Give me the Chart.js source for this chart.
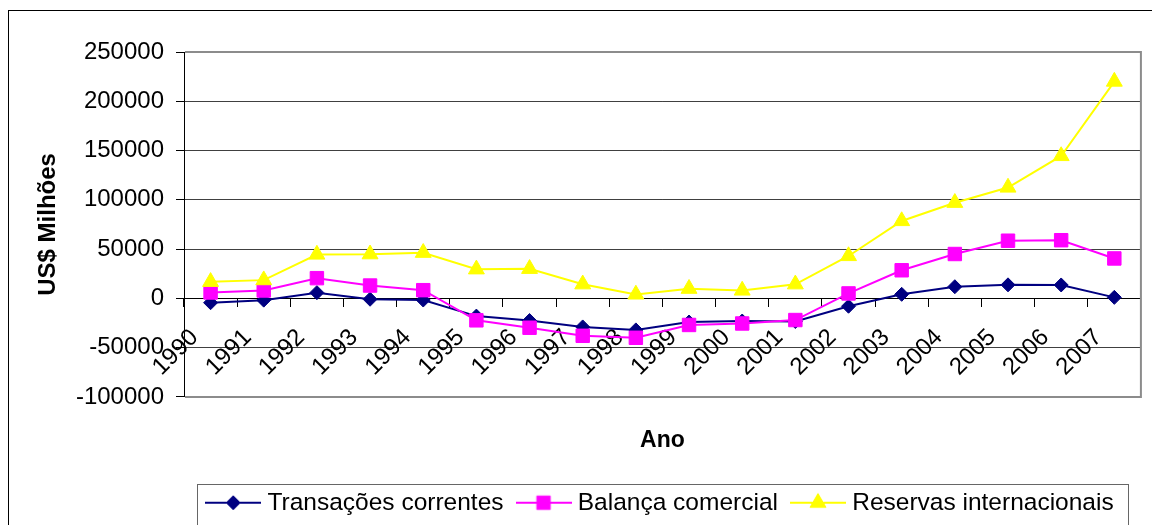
<!DOCTYPE html>
<html><head><meta charset="utf-8">
<script src="https://cdn.jsdelivr.net/npm/chart.js@4"></script>
<style>html,body{margin:0;padding:0;background:#fff}canvas{display:block}</style>
</head><body>
<canvas id="c" width="1152" height="525" style="width:1152px;height:525px"></canvas>
<script>
const years = ['1990','1991','1992','1993','1994','1995','1996','1997','1998','1999','2000','2001','2002','2003','2004','2005','2006','2007'];
const transacoesCorrentes = [-4400, -1800, 5800, -900, -1700, -18000, -22500, -29000, -32000, -24000, -23000, -23500, -8000, 4100, 11800, 13700, 13600, 1000];
const balancaComercial = [6000, 8000, 20500, 13000, 8300, -22300, -29800, -38000, -40000, -27000, -25500, -22000, 5000, 28500, 45000, 58500, 59000, 40500];
const reservasInternacionais = [16800, 18500, 44500, 44800, 46300, 29500, 30000, 14300, 4000, 9800, 8000, 14300, 43000, 78500, 97000, 112500, 144500, 220000];
const seriesNames = ['Transações correntes', 'Balança comercial', 'Reservas internacionais'];
const yMin = -100000, yMax = 250000, yStep = 50000;

const FONT = "'Liberation Sans', Arial, sans-serif";
Chart.defaults.font.family = FONT;
Chart.defaults.color = '#000';

const styles = [
  {color:'#000080', point:'rectRot', r:7},
  {color:'#FF00FF', point:'rect', r:9.5},
  {color:'#FFFF00', point:'triangle', r:9.2}
];

function legendIcon(s){
  const c = document.createElement('canvas');
  c.width = 56; c.height = 22;
  const g = c.getContext('2d');
  g.strokeStyle = s.color; g.fillStyle = s.color; g.lineWidth = 2;
  g.beginPath(); g.moveTo(0, 11); g.lineTo(56, 11); g.stroke();
  g.lineWidth = 1;
  Chart.helpers.drawPoint(g, {pointStyle: s.point, radius: s.r, borderWidth: 1, rotation: 0}, 28, 11);
  return c;
}
const icons = styles.map(legendIcon);

const seriesData = [transacoesCorrentes, balancaComercial, reservasInternacionais];
const datasets = seriesData.map((d, i) => ({
  label: seriesNames[i], data: d,
  borderColor: styles[i].color, backgroundColor: styles[i].color,
  pointBackgroundColor: styles[i].color, pointBorderColor: styles[i].color,
  borderWidth: 2, pointStyle: styles[i].point, pointRadius: styles[i].r,
  pointHoverRadius: styles[i].r, pointBorderWidth: 1, tension: 0,
  order: 2 - i
}));

const framePlugin = {
  id: 'frame',
  beforeDraw(chart){
    const ctx = chart.ctx; ctx.save();
    ctx.strokeStyle = '#000'; ctx.lineWidth = 1;
    ctx.strokeRect(8.5, 10.5, chart.width + 20, chart.height + 20);
    ctx.restore();
  },
  beforeDatasetsDraw(chart){
    const {ctx, chartArea:a} = chart; ctx.save();
    ctx.strokeStyle = '#8c8c8c'; ctx.lineWidth = 2;
    ctx.beginPath();
    ctx.moveTo(a.left + 1, a.top); ctx.lineTo(a.right, a.top); ctx.lineTo(a.right, a.bottom); ctx.lineTo(a.left + 1, a.bottom);
    ctx.stroke(); ctx.restore();
  },
  afterDraw(chart){
    const lg = chart.legend; if (!lg || !lg.legendHitBoxes.length) return;
    const hb = lg.legendHitBoxes, last = hb[hb.length - 1];
    const ctx = chart.ctx; ctx.save();
    ctx.strokeStyle = '#666'; ctx.lineWidth = 1;
    const l = Math.round(hb[0].left - 14) + 0.5, r = Math.round(last.left + last.width + 14) + 0.5;
    const t = Math.round(lg.top + 11.5) + 0.5;
    ctx.strokeRect(l, t, r - l, 200);
    ctx.restore();
  }
};

new Chart(document.getElementById('c'), {
  type: 'line',
  data: { labels: years, datasets },
  plugins: [framePlugin],
  options: {
    responsive: false, animation: false, devicePixelRatio: 1,
    layout: { padding: { left: 0, top: 52, right: 6, bottom: 0 } },
    scales: {
      x: {
        type: 'category', position: { y: 0 }, offset: true,
        grid: { display: true, drawOnChartArea: false, drawTicks: true, tickLength: 8, tickColor: '#000', offset: true, lineWidth: 1 },
        border: { display: true, color: '#000', width: 1 },
        ticks: { autoSkip: false, minRotation: 45, maxRotation: 45, padding: 17, labelOffset: -16, font: { size: 24 }, color: '#000' }
      },
      y: {
        min: yMin, max: yMax, position: 'left',
        ticks: { stepSize: yStep, padding: 12, font: { size: 24 }, color: '#000', callback: v => String(v) },
        grid: { color: '#404040', lineWidth: 1, tickLength: 8, tickColor: '#000', drawTicks: true },
        border: { display: true, color: '#000', width: 1 },
        title: { display: true, text: 'US$ Milhões', font: { size: 24, weight: 'bold' }, color: '#000', padding: { top: 34, bottom: 0 } },
        afterFit(s){ s.width = 184; }
      }
    },
    plugins: {
      legend: {
        position: 'bottom', fullSize: false,
        labels: {
          usePointStyle: true, pointStyleWidth: 44, font: { size: 24.5 }, padding: 18, color: '#000',
          generateLabels(chart){
            return chart.data.datasets.map((ds, i) => ({
              text: ds.label, fillStyle: ds.borderColor, strokeStyle: ds.borderColor, lineWidth: 0,
              pointStyle: icons[i], hidden: !chart.isDatasetVisible(i), datasetIndex: i, fontColor: '#000'
            }));
          }
        }
      },
      title: { display: true, text: 'Ano', position: 'bottom', fullSize: false, weight: 500, font: { size: 23, weight: 'bold' }, color: '#000', padding: { top: 30, bottom: 18 } },
      tooltip: { enabled: false }
    }
  }
});
</script>
</body></html>
